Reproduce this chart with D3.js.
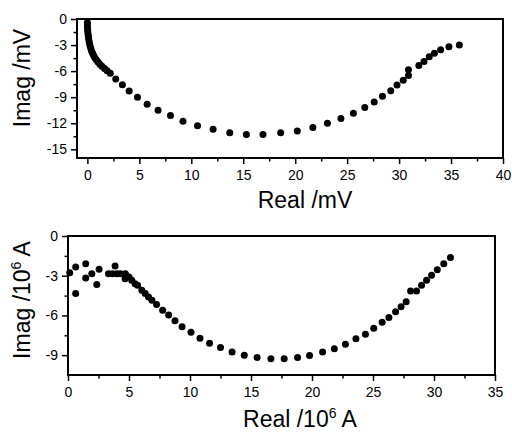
<!DOCTYPE html>
<html>
<head>
<meta charset="utf-8">
<title>Real / Imag</title>
<script src="https://cdn.jsdelivr.net/npm/d3@7"></script>
<style>
body { margin:0; background:#fff; }
text { font-family: "Liberation Sans", Arial, sans-serif; fill:#000; }
</style>
</head>
<body>
<script>
// top panel : Real /mV vs Imag /mV
var topReal = [0.0, 0.0, 0.01, 0.03, 0.05, 0.08, 0.11, 0.15, 0.2, 0.26, 0.33, 0.41, 0.5, 0.6, 0.72, 0.86, 1.02, 1.2, 1.4, 1.65, 1.9, 2.2,
  2.73, 3.37, 4.02, 4.82, 5.75, 6.8, 8.0, 9.2, 10.6, 12.1, 13.7, 15.3, 16.9, 18.6, 20.2, 21.7, 23.1, 24.4, 25.6, 26.7,
  27.6, 28.4, 29.2, 29.8, 30.4, 30.9, 30.9, 31.9, 32.4, 32.9, 33.4, 34.0, 34.8, 35.8];
var topImag = [-0.4, -0.7, -1.0, -1.3, -1.6, -1.9, -2.2, -2.5, -2.8, -3.1, -3.4, -3.7, -3.95, -4.2, -4.45, -4.7, -4.95, -5.2, -5.45, -5.7, -5.95, -6.25,
  -6.9, -7.56, -8.3, -9.0, -9.8, -10.5, -11.1, -11.76, -12.3, -12.7, -13.1, -13.3, -13.3, -13.1, -12.9, -12.5, -12.0, -11.45, -10.85, -10.2,
  -9.55, -8.9, -8.25, -7.6, -7.05, -6.5, -5.85, -5.35, -4.9, -4.35, -3.95, -3.55, -3.2, -3.0];
var topXTicks = [0, 5, 10, 15, 20, 25, 30, 35, 40];
var topXMinor = [2.5, 7.5, 12.5, 17.5, 22.5, 27.5, 32.5, 37.5];
var topYTicks = [0, -3, -6, -9, -12, -15];
var topYMinor = [-1.5, -4.5, -7.5, -10.5, -13.5];

// bottom panel : Real /10^6 A vs Imag /10^6 A
var botReal = [0.14, 0.63, 0.63, 1.45, 1.45, 1.95, 2.36, 2.55, 3.32, 3.86, 3.65, 4.0, 4.3, 4.7, 4.68, 5.0, 5.23, 5.5, 5.7,
  6.05, 6.33, 6.6, 6.88, 7.26, 7.76, 8.25, 8.77, 9.35, 10.08, 10.82, 11.6, 12.5, 13.45, 14.45, 15.5, 16.63, 17.72, 18.82,
  19.8, 20.87, 21.83, 22.74, 23.6, 24.38, 25.06, 25.75, 26.3, 26.85, 27.3, 27.72, 28.08, 28.57, 28.98, 29.39, 29.8, 30.27, 30.8, 31.35];
var botImag = [-2.77, -2.35, -4.35, -2.1, -3.17, -2.85, -3.67, -2.52, -2.85, -2.27, -2.85, -2.85, -2.85, -2.85, -3.22, -3.1, -3.35, -3.6, -3.72,
  -4.1, -4.35, -4.6, -4.85, -5.17, -5.6, -5.97, -6.4, -6.85, -7.27, -7.72, -8.1, -8.43, -8.77, -9.01, -9.17, -9.27, -9.27, -9.17,
  -9.02, -8.77, -8.52, -8.17, -7.77, -7.42, -6.97, -6.52, -6.15, -5.72, -5.35, -4.97, -4.15, -4.15, -3.72, -3.35, -2.97, -2.55, -2.1, -1.63];
var botXTicks = [0, 5, 10, 15, 20, 25, 30, 35];
var botXMinor = [2.5, 7.5, 12.5, 17.5, 22.5, 27.5, 32.5];
var botYTicks = [0, -3, -6, -9];
var botYMinor = [-1.5, -4.5, -7.5];

var width = 512, height = 433;
var svg = d3.select("body").append("svg")
  .attr("width", width)
  .attr("height", height);

function panel(o) {
  var x = d3.scaleLinear().domain(o.xDomain).range([o.left, o.right]);
  var y = d3.scaleLinear().domain(o.yDomain).range([o.bottom, o.top]);
  var g = svg.append("g");

  // minor ticks
  g.append("g").attr("transform", "translate(0," + o.bottom + ")")
    .call(d3.axisBottom(x).tickValues(o.xMinor).tickSize(3.5).tickFormat(""));
  g.append("g").attr("transform", "translate(" + o.left + ",0)")
    .call(d3.axisLeft(y).tickValues(o.yMinor).tickSize(3.5).tickFormat(""));

  // major ticks + labels
  g.append("g").attr("transform", "translate(0," + o.bottom + ")")
    .call(d3.axisBottom(x).tickValues(o.xTicks).tickSize(6).tickPadding(6).tickFormat(d3.format("d")));
  g.append("g").attr("transform", "translate(" + o.left + ",0)")
    .call(d3.axisLeft(y).tickValues(o.yTicks).tickSize(6).tickPadding(4).tickFormat(function(d){ return d === 0 ? "0" : "-" + Math.abs(d); }));

  g.selectAll(".domain").remove();
  g.selectAll(".tick line").attr("stroke", "#000").attr("stroke-width", 1.5);
  g.selectAll(".tick text").attr("font-size", 14).attr("font-family", "Liberation Sans, Arial, sans-serif");

  // frame
  g.append("rect")
    .attr("x", o.left).attr("y", o.top)
    .attr("width", o.right - o.left).attr("height", o.bottom - o.top)
    .attr("fill", "none").attr("stroke", "#000").attr("stroke-width", 2);

  // points
  g.selectAll("circle.pt").data(o.xs).enter().append("circle")
    .attr("class", "pt")
    .attr("cx", function(d){ return x(d); })
    .attr("cy", function(d, i){ return y(o.ys[i]); })
    .attr("r", 3.5)
    .attr("fill", "#000");
  return g;
}

var g1 = panel({ left: 77, right: 503, top: 19, bottom: 158,
  xDomain: [-1, 40], yDomain: [-16, 0],
  xTicks: topXTicks, xMinor: topXMinor, yTicks: topYTicks, yMinor: topYMinor,
  xs: topReal, ys: topImag });

var g2 = panel({ left: 68, right: 495, top: 236, bottom: 375,
  xDomain: [0, 35], yDomain: [-10.5, 0],
  xTicks: botXTicks, xMinor: botXMinor, yTicks: botYTicks, yMinor: botYMinor,
  xs: botReal, ys: botImag });

// axis titles
svg.append("text").attr("x", 305).attr("y", 208).attr("text-anchor", "middle")
  .attr("font-size", 23).text("Real /mV");
svg.append("text").attr("transform", "translate(30,78) rotate(-90)").attr("text-anchor", "middle")
  .attr("font-size", 23).text("Imag /mV");

var t1 = svg.append("text").attr("x", 300).attr("y", 427).attr("text-anchor", "middle").attr("font-size", 23);
t1.append("tspan").text("Real /10");
t1.append("tspan").attr("dy", -9).attr("font-size", 14).text("6");
t1.append("tspan").attr("dy", 9).text(" A");

var t2 = svg.append("text").attr("transform", "translate(30,300) rotate(-90)").attr("text-anchor", "middle").attr("font-size", 23);
t2.append("tspan").text("Imag /10");
t2.append("tspan").attr("dy", -9).attr("font-size", 14).text("6");
t2.append("tspan").attr("dy", 9).text(" A");
</script>
</body>
</html>
